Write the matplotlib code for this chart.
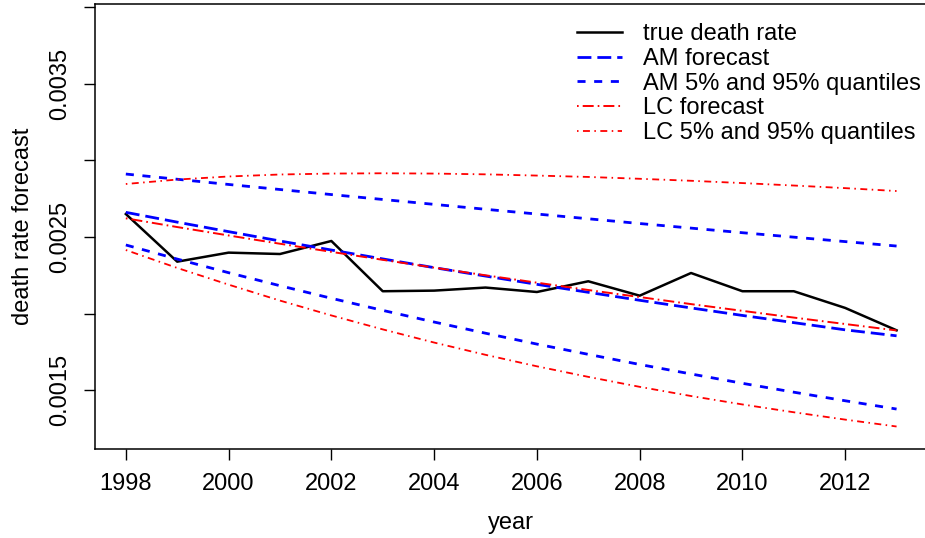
import matplotlib
matplotlib.use("Agg")
import matplotlib.pyplot as plt

# values
years = [1998, 1999, 2000, 2001, 2002, 2003, 2004, 2005,
         2006, 2007, 2008, 2009, 2010, 2011, 2012, 2013]

true_rate = [0.002650, 0.002339, 0.002398, 0.002389, 0.002474, 0.002146,
             0.002150, 0.002170, 0.002141, 0.002211, 0.002117, 0.002265,
             0.002146, 0.002146, 0.002037, 0.001891]

am_fc = [0.002661, 0.002597, 0.002535, 0.002474, 0.002415, 0.002357,
         0.002300, 0.002245, 0.002191, 0.002139, 0.002087, 0.002037,
         0.001988, 0.001941, 0.001894, 0.001855]
am_hi = [0.002911, 0.002877, 0.002843, 0.002810, 0.002777, 0.002745,
         0.002713, 0.002681, 0.002650, 0.002619, 0.002588, 0.002558,
         0.002528, 0.002499, 0.002470, 0.002441]
am_lo = [0.002448, 0.002356, 0.002267, 0.002182, 0.002100, 0.002021,
         0.001945, 0.001872, 0.001801, 0.001734, 0.001668, 0.001606,
         0.001545, 0.001487, 0.001431, 0.001377]

lc_fc = [0.002622, 0.002565, 0.002510, 0.002456, 0.002403, 0.002351,
         0.002300, 0.002250, 0.002202, 0.002154, 0.002108, 0.002062,
         0.002018, 0.001974, 0.001932, 0.001890]
lc_hi = [0.002846, 0.002875, 0.002895, 0.002908, 0.002914, 0.002916,
         0.002914, 0.002909, 0.002901, 0.002892, 0.002880, 0.002867,
         0.002852, 0.002836, 0.002819, 0.002800]
lc_lo = [0.002415, 0.002298, 0.002189, 0.002085, 0.001988, 0.001897,
         0.001811, 0.001731, 0.001656, 0.001587, 0.001522, 0.001462,
         0.001407, 0.001356, 0.001308, 0.001263]

x_ticks = [1998, 2000, 2002, 2004, 2006, 2008, 2010, 2012]
y_ticks = [0.0015, 0.0020, 0.0025, 0.0030, 0.0035, 0.0040]
y_tick_labels = ["0.0015", "", "0.0025", "", "0.0035", ""]

plt.rcParams["font.family"] = ["Liberation Sans", "DejaVu Sans"]
plt.rcParams["lines.scale_dashes"] = False

fig = plt.figure(figsize=(9.25, 5.38), dpi=100)
ax = fig.add_axes([95 / 925, 89 / 538, 832.4 / 925, 445 / 538])

ax.plot(years, true_rate, color="black", lw=1.8, label="true death rate")
ax.plot(years, am_fc, color="blue", lw=2.0, dashes=(10, 4.3),
        label="AM forecast")
ax.plot(years, am_hi, color="blue", lw=2.0, dashes=(5.8, 6.2),
        label="AM 5% and 95% quantiles")
ax.plot(years, am_lo, color="blue", lw=2.0, dashes=(5.8, 6.2))
ax.plot(years, lc_fc, color="red", lw=1.4, dashes=(1.2, 2.9, 7.9, 2.9),
        label="LC forecast")
ax.plot(years, lc_hi, color="red", lw=1.3, dashes=(1.1, 3.2, 5.0, 3.2),
        label="LC 5% and 95% quantiles")
ax.plot(years, lc_lo, color="red", lw=1.3, dashes=(1.1, 3.2, 5.0, 3.2))

ax.set_xlim(1997.4, 2013.6)
ax.set_ylim(0.0011162, 0.0040209)
ax.set_xticks(x_ticks)
ax.set_yticks(y_ticks)
ax.set_yticklabels(y_tick_labels, rotation=90, va="center")
ax.tick_params(axis="both", labelsize=17, length=8, width=1.0,
               direction="out", color="black")
ax.tick_params(axis="x", pad=9.5)
ax.tick_params(axis="y", pad=9)
for s in ax.spines.values():
    s.set_linewidth(1.1)

ax.set_xlabel("year", fontsize=17)
ax.set_ylabel("death rate forecast", fontsize=17)
ax.xaxis.set_label_coords(0.5, -0.141)
ax.yaxis.set_label_coords(-0.073, 0.5)

ax.legend(loc="upper left", bbox_to_anchor=(577 / 925, 1 - 23 / 538),
          bbox_transform=fig.transFigure, frameon=False, fontsize=17,
          handlelength=1.9, handletextpad=0.9, labelspacing=0.12,
          borderpad=0, borderaxespad=0)

fig.savefig("out.png", dpi=100)
